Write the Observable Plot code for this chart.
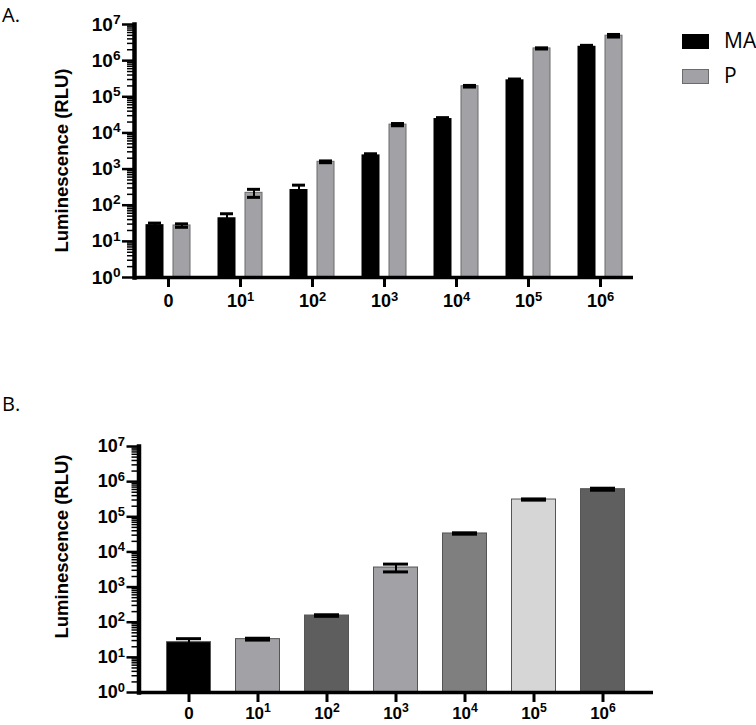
<!DOCTYPE html>
<html><head><meta charset="utf-8">
<script src="https://cdn.jsdelivr.net/npm/d3@7"></script>
<script src="https://cdn.jsdelivr.net/npm/@observablehq/plot@0.6"></script>
<style>
body{margin:0;background:#fff;}
#wrap{position:relative;width:756px;height:725px;overflow:hidden;font-family:"Open Sans","Liberation Sans",sans-serif;color:#000;}
.panel{position:absolute;left:0;}
.lab{position:absolute;line-height:1;white-space:nowrap;}
.sw{position:absolute;box-sizing:border-box;}
</style></head><body><div id="wrap"></div>
<script>
// ---- data ----
const categories = ["0","10^1","10^2","10^3","10^4","10^5","10^6"];
const seriesNames = ["MA","P"];
const seriesColors = ["#000000","#a2a2a6"];
const maValues = [29, 45, 272, 2470, 25000, 295000, 2500000];
const maErrors = [3, 13, 87, 180, 1500, 15000, 150000];
const pValues = [27.5, 220, 1590, 17000, 196000, 2180000, 4900000];
const pErrors = [3, 55, 90, 1200, 10000, 80000, 400000];
const bValues = [27, 33, 155, 3600, 33500, 310000, 610000];
const bErrors = [7, 2, 8, 900, 1500, 12000, 40000];
const bColors = ["#000000","#a2a2a6","#5e5e5e","#a2a2a6","#7f7f7f","#d6d6d6","#5f5f5f"];
const yTicks = [1,10,100,1e3,1e4,1e5,1e6,1e7];
const minorSteps = [2,3,4,5,6,7,8,9];
const yTitle = "Luminescence (RLU)";
const panelLabels = ["A.","B."];

const yMinor = yTicks.slice(0,-1).flatMap(t => minorSteps.map(k => k*t));
const expFmt = d => "10^" + Math.round(Math.log10(d));

const rowsMA = categories.map((c,i)=>({cat:c, value:maValues[i], err:maErrors[i]}));
const rowsP = categories.map((c,i)=>({cat:c, value:pValues[i], err:pErrors[i]}));
const rowsB = categories.map((c,i)=>({cat:c, value:bValues[i], err:bErrors[i], fill:bColors[i]}));

const FONT = '"Liberation Sans", Arial, Helvetica, sans-serif';

function errMarks(data, dx, inset){
  return [
    Plot.ruleX(data, {x:"cat", y1:d=>d.value-d.err, y2:d=>d.value+d.err, dx, stroke:"#000", strokeWidth:2}),
    Plot.tickY(data, {x:"cat", y:d=>d.value+d.err, dx, insetLeft:inset, insetRight:inset, stroke:"#000", strokeWidth:3}),
    Plot.tickY(data, {x:"cat", y:d=>d.value-d.err, dx, insetLeft:inset, insetRight:inset, stroke:"#000", strokeWidth:3})
  ];
}
function axisMarks(opt){
  return [
    Plot.axisY({ticks:yMinor, tickSize:7, tickFormat:()=>"", strokeWidth:1.5, label:null}),
    Plot.axisY({ticks:yTicks, tickSize:12, tickPadding:2, tickFormat:expFmt, strokeWidth:2.5, fontSize:opt.yFont, fontWeight:"bold", label:null}),
    Plot.axisX({tickSize:10, tickPadding:opt.xPad, strokeWidth:3, fontSize:opt.xFont, fontWeight:"bold", label:null, tickFormat:d=>d}),
    Plot.ruleY([1], {stroke:"#000", strokeWidth:3.5}),
    Plot.frame({anchor:"left", stroke:"#000", strokeWidth:4.5}),
    Plot.text([yTitle], {frameAnchor:"left", text:d=>d, rotate:-90, dx:opt.titleDx, dy:opt.titleDy, fontSize:18.5, fontWeight:"bold", textAnchor:"middle"})
  ];
}
function supers(svg){
  svg.querySelectorAll("text").forEach(t=>{
    const m = /^10\^(\d)$/.exec(t.textContent);
    if(!m) return;
    t.textContent = "10";
    const ts = document.createElementNS("http://www.w3.org/2000/svg","tspan");
    ts.setAttribute("font-size","0.72em");
    ts.setAttribute("dy","-0.5em");
    ts.textContent = m[1];
    t.appendChild(ts);
  });
}

const chartA = Plot.plot({
  width:756, height:320,
  marginLeft:134, marginRight:123, marginTop:24, marginBottom:43,
  style:{fontFamily:FONT, color:"#000", background:"transparent"},
  x:{domain:categories, paddingInner:0.75, paddingOuter:0.33, label:null},
  y:{type:"log", domain:[1,1e7], label:null},
  marks:[
    Plot.barY(rowsMA, {x:"cat", y1:1, y2:"value", fill:seriesColors[0], dx:-13.5}),
    Plot.barY(rowsP, {x:"cat", y1:1, y2:"value", fill:seriesColors[1], stroke:"#6b6b6b", strokeWidth:1, insetLeft:0.5, insetRight:0.5, dx:13.5}),
    ...errMarks(rowsMA, -13.5, 2.5),
    ...errMarks(rowsP, 13.5, 2.5),
    ...axisMarks({yFont:19, xFont:18, xPad:7, titleDx:-72, titleDy:9.5})
  ]
});

const chartB = Plot.plot({
  width:756, height:305,
  marginLeft:138.5, marginRight:103, marginTop:26, marginBottom:33,
  style:{fontFamily:FONT, color:"#000", background:"transparent"},
  x:{domain:categories, paddingInner:0.343, paddingOuter:0.35, label:null},
  y:{type:"log", domain:[1,1e7], label:null},
  marks:[
    Plot.barY(rowsB, {x:"cat", y1:1, y2:"value", fill:"fill", stroke:"#555555", strokeWidth:1, insetLeft:0.5, insetRight:0.5}),
    ...errMarks(rowsB, 0, 10),
    ...axisMarks({yFont:18, xFont:17, xPad:4, titleDx:-76.5, titleDy:-23})
  ]
});

supers(chartA); supers(chartB);

const wrap = document.getElementById("wrap");
chartA.classList.add("panel"); chartA.style.top = "0px";
chartB.classList.add("panel"); chartB.style.top = "420px";
wrap.appendChild(chartA); wrap.appendChild(chartB);

function addLabel(txt, left, top, size){
  const d = document.createElement("div");
  d.className = "lab"; d.textContent = txt;
  d.style.left = left+"px"; d.style.top = top+"px"; d.style.fontSize = size+"px";
  wrap.appendChild(d);
}
addLabel(panelLabels[0], 2, 4.5, 20);
addLabel(panelLabels[1], 2, 394, 20);

// legend
seriesNames.forEach((name,i)=>{
  const sw = document.createElement("div");
  sw.className = "sw";
  sw.style.left = "682px"; sw.style.top = (34 + i*35)+"px";
  sw.style.width = "27px"; sw.style.height = "15px";
  sw.style.background = seriesColors[i];
  if(i===1) sw.style.border = "1px solid #6b6b6b";
  wrap.appendChild(sw);
  addLabel(name, 724, 29.5 + i*35, 21);
});
</script></body></html>
